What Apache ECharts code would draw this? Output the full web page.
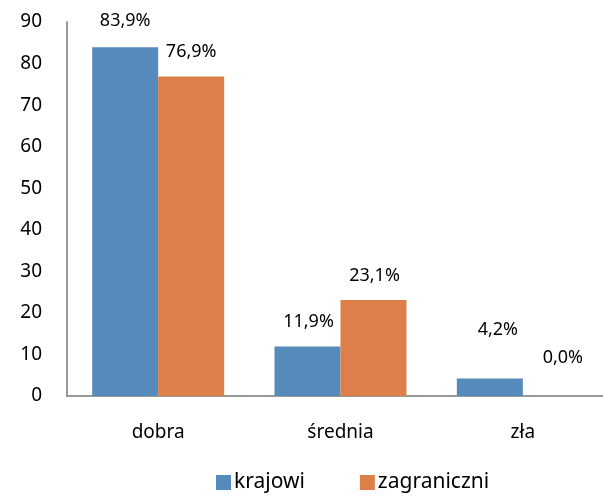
<!DOCTYPE html>
<html lang="pl">
<head>
    <meta charset="UTF-8">
    <title>Ocena</title>
    <style>
        html, body {
            margin: 0;
            padding: 0;
            background: #fff;
            overflow: hidden;
        }

        /* oś X wychodzi poza prawą krawędź obrazka, więc wykres jest szerszy niż okno */
        #main {
            width: 614px;
            height: 500px;
        }
    </style>
</head>
<body>
<div id="main"></div>
<script src="https://cdn.jsdelivr.net/npm/echarts@6/dist/echarts.min.js"></script>
<script>
    // dane
    const categories = ['dobra', 'średnia', 'zła']
    const seriesNames = ['krajowi', 'zagraniczni']
    const krajowi = [83.9, 11.9, 4.2]
    const zagraniczni = [76.9, 23.1, 0.0]
    const yTicks = [0, 10, 20, 30, 40, 50, 60, 70, 80, 90]

    // odstęp etykiet nad słupkami (Excel ustawił je ręcznie)
    const liftKrajowi = [17, 16, 40]
    const liftZagraniczni = [16, 15, 29]
    const shiftKrajowi = [0, 1, 8]
    const shiftZagraniczni = [0, 1, 7]

    const font = '"Noto Sans", "Open Sans", sans-serif'

    function withLabels(values, lifts, shifts) {
        return values.map((v, i) => ({
            value: v,
            label: {distance: lifts[i], offset: [shifts[i], 0]}
        }))
    }

    function fmt(p) {
        return p.value.toFixed(1).replace('.', ',') + '%'
    }

    let myChart = echarts.init(document.querySelector('#main'))
    let option = {
        color: ['#558ABB', '#DD7F48'],
        animation: false,
        textStyle: {fontFamily: font},
        grid: {
            left: 67,
            right: 0,
            top: 22,
            bottom: 104
        },
        legend: {
            data: seriesNames,
            left: 211,
            bottom: 2,
            icon: 'rect',
            itemWidth: 15,
            itemHeight: 15,
            itemGap: 55,
            textStyle: {fontSize: 21, color: '#000', fontFamily: font, padding: [0, 0, 0, -2]}
        },
        xAxis: {
            type: 'category',
            data: categories,
            axisLine: {lineStyle: {color: '#999', width: 2}},
            axisTick: {show: false},
            axisLabel: {fontSize: 19, color: '#000', margin: 27, fontFamily: font}
        },
        yAxis: {
            type: 'value',
            min: yTicks[0],
            max: yTicks[yTicks.length - 1],
            interval: yTicks[1] - yTicks[0],
            axisLine: {show: true, lineStyle: {color: '#999', width: 2}},
            axisTick: {show: false},
            splitLine: {show: false},
            axisLabel: {fontSize: 19, color: '#000', margin: 25, fontFamily: font}
        },
        series: [
            {
                name: seriesNames[0],
                type: 'bar',
                barWidth: 66,
                barGap: '0%',
                data: withLabels(krajowi, liftKrajowi, shiftKrajowi),
                label: {show: true, position: 'top', formatter: fmt, fontSize: 18, color: '#000', fontFamily: font}
            },
            {
                name: seriesNames[1],
                type: 'bar',
                barWidth: 66,
                barGap: '0%',
                data: withLabels(zagraniczni, liftZagraniczni, shiftZagraniczni),
                label: {show: true, position: 'top', formatter: fmt, fontSize: 18, color: '#000', fontFamily: font}
            }
        ]
    }
    myChart.setOption(option)
</script>
</body>
</html>
